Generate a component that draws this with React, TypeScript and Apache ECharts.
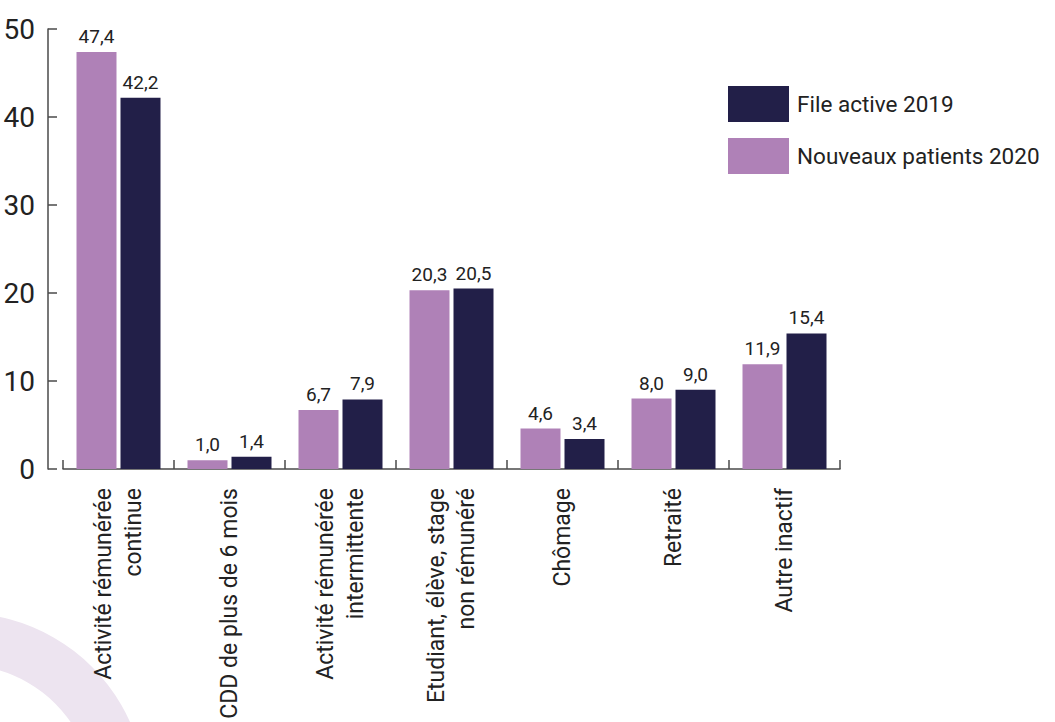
import React, { useEffect, useRef } from "react";
import * as echarts from "echarts";

const categories = [
  "Activité rémunérée\ncontinue",
  "CDD de plus de 6 mois",
  "Activité rémunérée\nintermittente",
  "Etudiant, élève, stage\nnon rémunéré",
  "Chômage",
  "Retraité",
  "Autre inactif",
];
const nouveauxPatients2020 = [47.4, 1.0, 6.7, 20.3, 4.6, 8.0, 11.9];
const fileActive2019 = [42.2, 1.4, 7.9, 20.5, 3.4, 9.0, 15.4];
const seriesNames = ["File active 2019", "Nouveaux patients 2020"];

const FONT = "Roboto, 'Noto Sans', sans-serif";
const PURPLE = "#AF81B7";
const NAVY = "#221F48";
const TEXT = "#222222";
const AXIS = "#4a4a4a";

export default function App() {
  const ref = useRef<HTMLDivElement>(null);
  useEffect(() => {
    if (!ref.current) return;
    const chart = echarts.init(ref.current, undefined, { renderer: "svg" });
    const fmt = (p: any) => Number(p.value).toFixed(1).replace(".", ",");
    const labelCfg = {
      show: true,
      position: "top" as const,
      distance: 6,
      formatter: fmt,
      fontFamily: FONT,
      fontSize: 19,
      color: TEXT,
    };
    chart.setOption({
      animation: false,
      textStyle: { fontFamily: FONT },
      graphic: [
        {
          type: "ring",
          z: -10,
          silent: true,
          shape: { cx: -38, cy: 797, r: 184, r0: 132 },
          style: { fill: "#EDE4F0" },
        },
      ],
      grid: { left: 63, right: 215, top: 29, bottom: 253, containLabel: false, outerBoundsMode: "none" },
      legend: {
        data: seriesNames,
        orient: "vertical",
        left: 728,
        top: 86,
        padding: 0,
        itemWidth: 61,
        itemHeight: 36,
        itemGap: 16,
        icon: "rect",
        textStyle: { fontFamily: FONT, fontSize: 22.5, color: TEXT, padding: [0, 0, 0, 3] },
      },
      xAxis: {
        type: "category",
        data: categories,
        axisLine: { show: true, lineStyle: { color: AXIS, width: 1.5 } },
        axisTick: { show: true, inside: true, length: 9, lineStyle: { color: AXIS, width: 1.5 } },
        axisLabel: {
          interval: 0,
          rotate: 90,
          margin: 19,
          fontFamily: FONT,
          fontSize: 23,
          lineHeight: 30,
          color: TEXT,
        },
      },
      yAxis: {
        type: "value",
        min: 0,
        max: 50,
        interval: 10,
        offset: 15,
        splitLine: { show: false },
        axisLine: { show: true, lineStyle: { color: AXIS, width: 1.5 } },
        axisTick: { show: true, inside: true, length: 9, lineStyle: { color: AXIS, width: 1.5 } },
        axisLabel: { margin: 13, fontFamily: FONT, fontSize: 28, color: TEXT },
      },
      series: [
        {
          name: seriesNames[1],
          type: "bar",
          data: nouveauxPatients2020,
          barWidth: 40,
          barGap: "10%",
          itemStyle: { color: PURPLE },
          label: labelCfg,
        },
        {
          name: seriesNames[0],
          type: "bar",
          data: fileActive2019,
          barWidth: 40,
          barGap: "10%",
          itemStyle: { color: NAVY },
          label: labelCfg,
        },
      ],
    });
    return () => chart.dispose();
  }, []);
  return <div ref={ref} style={{ width: 1055, height: 722, position: "absolute", left: 0, top: 0 }} />;
}
